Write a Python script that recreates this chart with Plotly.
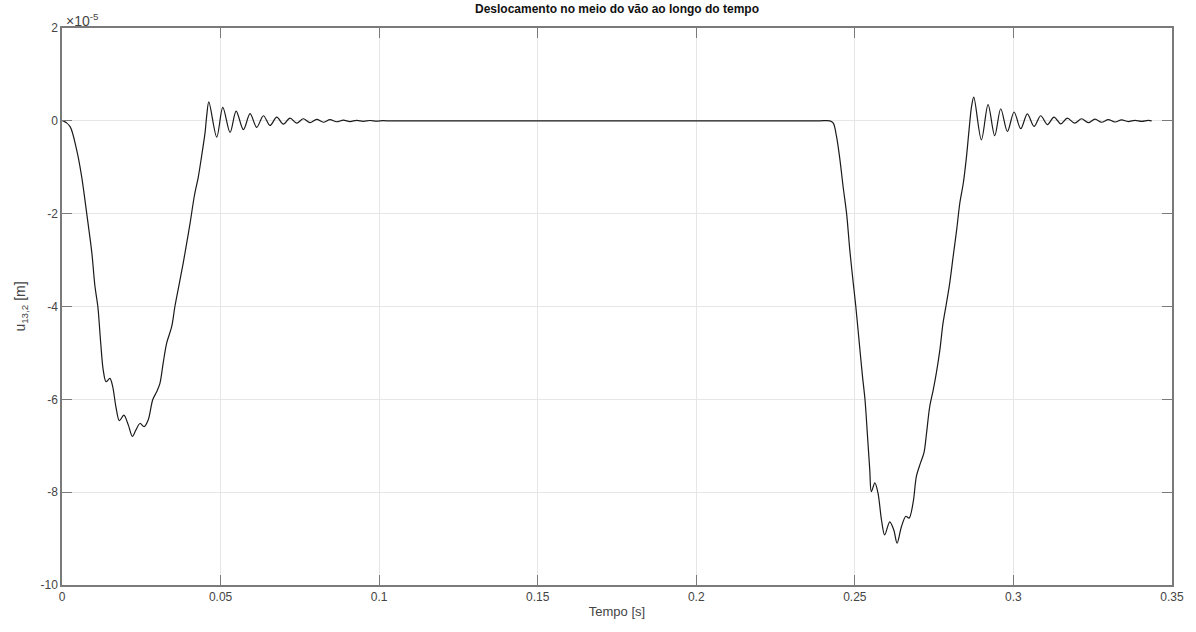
import numpy as np
import plotly.graph_objects as go

# Mid-span displacement u_{13,2} (values in units of 1e-5 m) versus time [s]
t_first = [0.0, 0.0004, 0.0025, 0.0046, 0.0062, 0.0078, 0.0094, 0.0104, 0.0113, 0.0122,
           0.0130, 0.0139, 0.0151, 0.0160, 0.0170, 0.0181, 0.0195, 0.0209, 0.0222, 0.0233,
           0.0246, 0.0259, 0.0272, 0.0286, 0.0299, 0.0309, 0.0319, 0.0330, 0.0346, 0.0356,
           0.0370, 0.0382, 0.0393, 0.0404, 0.0417, 0.0430, 0.0440, 0.0451, 0.0456]
u_first = [0.0, 0.0, -0.12, -0.62, -1.20, -2.00, -2.84, -3.57, -4.00, -4.78,
           -5.37, -5.62, -5.55, -5.73, -6.16, -6.46, -6.34, -6.55, -6.80, -6.66,
           -6.52, -6.59, -6.44, -6.01, -5.83, -5.65, -5.22, -4.79, -4.43, -4.00,
           -3.50, -3.07, -2.64, -2.20, -1.63, -1.20, -0.77, -0.26, 0.09]

# Free vibration decay after the first passage
t_decay1 = [0.0463, 0.0488, 0.0507, 0.0530, 0.0549, 0.0572, 0.0593, 0.0614, 0.0635, 0.0656,
            0.0677, 0.0698, 0.0719, 0.0740, 0.0761, 0.0782, 0.0803, 0.0824, 0.0845, 0.0866,
            0.0887, 0.0908, 0.0929, 0.0950, 0.0971, 0.0992, 0.1013, 0.1034, 0.1060]
u_decay1 = [0.41, -0.35, 0.29, -0.25, 0.21, -0.19, 0.155, -0.14, 0.11, -0.10,
            0.08, -0.07, 0.06, -0.05, 0.045, -0.04, 0.03, -0.03, 0.025, -0.02,
            0.015, -0.015, 0.01, -0.01, 0.007, -0.006, 0.004, -0.003, 0.0]

# Rest between passages
t_rest = [0.120, 0.150, 0.180, 0.210, 0.230, 0.2390, 0.2421]
u_rest = [0.0, 0.0, 0.0, 0.0, 0.0, 0.0, 0.0]

t_second = [0.2432, 0.2442, 0.2453, 0.2463, 0.2474, 0.2484, 0.2495, 0.2503, 0.2514, 0.2524,
            0.2532, 0.2540, 0.2547, 0.2552, 0.2563, 0.2573, 0.2584, 0.2594, 0.2610, 0.2623,
            0.2633, 0.2647, 0.2661, 0.2671, 0.2684, 0.2694, 0.2707, 0.2718, 0.2726, 0.2736,
            0.2747, 0.2757, 0.2768, 0.2778, 0.2789, 0.2799, 0.2810, 0.2821, 0.2831, 0.2842,
            0.2852, 0.2860, 0.2868]
u_second = [-0.05, -0.33, -0.84, -1.42, -2.00, -2.78, -3.50, -4.00, -4.79, -5.50,
            -6.01, -6.80, -7.52, -7.99, -7.80, -8.02, -8.60, -8.92, -8.64, -8.82,
            -9.10, -8.74, -8.52, -8.56, -8.21, -7.66, -7.37, -7.15, -6.73, -6.16,
            -5.80, -5.43, -4.94, -4.36, -3.92, -3.50, -2.92, -2.35, -1.77, -1.34,
            -0.77, -0.20, 0.31]

# Free vibration decay after the second passage
t_decay2 = [0.2875, 0.2899, 0.2920, 0.2941, 0.2960, 0.2981, 0.3002, 0.3023, 0.3044, 0.3065,
            0.3086, 0.3107, 0.3128, 0.3149, 0.3170, 0.3193, 0.3215, 0.3236, 0.3257, 0.3278,
            0.3299, 0.3320, 0.3341, 0.3362, 0.3383, 0.3404, 0.3425, 0.3436]
u_decay2 = [0.51, -0.41, 0.35, -0.32, 0.26, -0.23, 0.19, -0.17, 0.15, -0.12,
            0.11, -0.08, 0.08, -0.065, 0.06, -0.05, 0.045, -0.04, 0.035, -0.03,
            0.025, -0.025, 0.02, -0.015, 0.012, -0.01, 0.01, 0.0]

y_ticks = [-10, -8, -6, -4, -2, 0, 2]
x_ticks = [0, 0.05, 0.1, 0.15, 0.2, 0.25, 0.3, 0.35]

SCALE = 1e-5

t = np.array(t_first + t_decay1 + t_rest + t_second + t_decay2)
u = np.array(u_first + u_decay1 + u_rest + u_second + u_decay2) * SCALE

axis_color = "#7a7a7a"
grid_color = "#e6e6e6"
label_color = "#444444"
font_family = "Liberation Sans, Arial, sans-serif"

fig = go.Figure()
fig.add_trace(go.Scatter(
    x=t, y=u, mode="lines",
    line=dict(color="#1a1a1a", width=1.2, shape="spline", smoothing=0.9),
    showlegend=False,
))

fig.update_layout(
    width=1196, height=632,
    margin=dict(l=62, r=24, t=28, b=47),
    paper_bgcolor="white", plot_bgcolor="white",
    font=dict(family=font_family, size=12, color=label_color),
    title=dict(
        text="<b>Deslocamento no meio do vão ao longo do tempo</b>",
        x=0.5, xref="paper", xanchor="center",
        y=1, yref="container", yanchor="top", pad=dict(t=5),
        font=dict(family=font_family, size=12, color="#111111"),
    ),
)

fig.update_xaxes(
    range=[0, 0.35], tickvals=x_ticks,
    ticktext=[f"{v:g}" for v in x_ticks],
    showgrid=True, gridcolor=grid_color, gridwidth=1,
    zeroline=False,
    showline=True, linecolor=axis_color, linewidth=1.5, mirror="ticks",
    ticks="inside", ticklen=10, tickcolor=axis_color, tickwidth=1.2,
    tickfont=dict(size=12, color=label_color),
    title=dict(text="Tempo [s]", font=dict(size=13, color=label_color), standoff=4),
)

fig.update_yaxes(
    range=[-10 * SCALE, 2 * SCALE],
    tickvals=[v * SCALE for v in y_ticks],
    ticktext=[str(v) for v in y_ticks],
    showgrid=True, gridcolor=grid_color, gridwidth=1,
    zeroline=False,
    showline=True, linecolor=axis_color, linewidth=1.5, mirror="ticks",
    ticks="inside", ticklen=10, tickcolor=axis_color, tickwidth=1.2,
    tickfont=dict(size=12, color=label_color),
    title=dict(text="u<sub>13,2</sub> [m]", font=dict(size=14, color=label_color), standoff=12),
)

# Exponent marker for the y axis
fig.add_annotation(
    x=0, xref="paper", y=1, yref="paper",
    xanchor="left", yanchor="bottom", yshift=-3, xshift=2,
    text="×10<sup>-5</sup>", showarrow=False,
    font=dict(family=font_family, size=14, color=label_color),
)

fig.write_html("out.html")
